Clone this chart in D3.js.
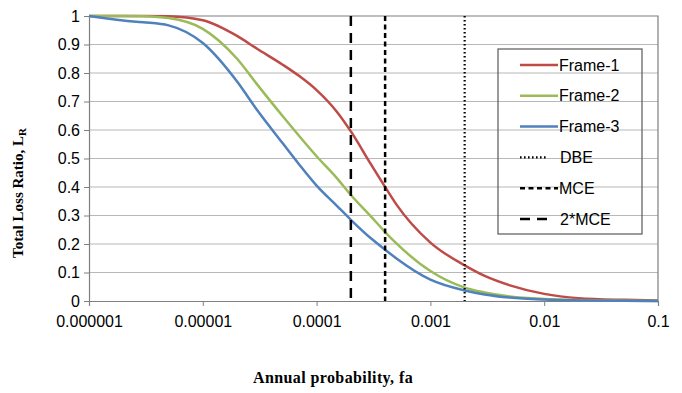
<!DOCTYPE html>
<html>
<head>
<meta charset="utf-8">
<script src="https://cdn.jsdelivr.net/npm/d3@7"></script>
<style>
  body { margin: 0; background: #fff; }
  svg { display: block; }
  .tick text { font-family: Arial, "Liberation Sans", sans-serif; font-size: 16px; fill: #000; }
</style>
</head>
<body>
<svg width="682" height="393"></svg>
<script>
// annual probability (x) and loss ratio per frame
var fa = [0.000001, 0.000002, 0.000003, 0.000005, 0.00001, 0.00002, 0.00003, 0.00005, 0.00007,
          0.0001, 0.00015, 0.0002, 0.0003, 0.0004, 0.0005, 0.001, 0.002, 0.003, 0.005, 0.01, 0.02, 0.05, 0.1];
var frame1 = [1.0, 1.0, 1.0, 0.999, 0.985, 0.93, 0.885, 0.83, 0.79,
              0.74, 0.665, 0.595, 0.48, 0.40, 0.34, 0.205, 0.125, 0.088, 0.055, 0.025, 0.01, 0.004, 0.002];
var frame2 = [1.0, 1.0, 0.999, 0.993, 0.955, 0.85, 0.76, 0.65, 0.58,
              0.508, 0.432, 0.372, 0.297, 0.242, 0.203, 0.105, 0.047, 0.03, 0.016, 0.007, 0.003, 0.001, 0.0];
var frame3 = [1.0, 0.984, 0.978, 0.967, 0.905, 0.77, 0.67, 0.555, 0.48,
              0.405, 0.335, 0.285, 0.22, 0.18, 0.15, 0.075, 0.037, 0.023, 0.012, 0.005, 0.002, 0.0005, 0.0];

var xTicks = [0.000001, 0.00001, 0.0001, 0.001, 0.01, 0.1];
var xTickLabels = ["0.000001", "0.00001", "0.0001", "0.001", "0.01", "0.1"];
var yTicks = [0, 0.1, 0.2, 0.3, 0.4, 0.5, 0.6, 0.7, 0.8, 0.9, 1];

// hazard levels drawn as vertical lines
var levels = [
  {name: "DBE", fa: 0.002, dash: "1.6,2.4", width: 2.2},
  {name: "MCE", fa: 0.0004, dash: "5,3.5", width: 2.5},
  {name: "2*MCE", fa: 0.0002, dash: "10,7", width: 2.5}
];
var series = [
  {name: "Frame-1", values: frame1, color: "#BE4B48"},
  {name: "Frame-2", values: frame2, color: "#9BBB59"},
  {name: "Frame-3", values: frame3, color: "#4F81BD"}
];

var margin = {left: 89, right: 24, top: 16, bottom: 92};
var W = 682, H = 393;
var svg = d3.select("svg");

var x = d3.scaleLog().domain([0.000001, 0.1]).range([margin.left, W - margin.right]);
var y = d3.scaleLinear().domain([0, 1]).range([H - margin.bottom, margin.top]);

// gridlines
svg.append("g").selectAll("line")
  .data(yTicks.slice(1, -1))
  .enter().append("line")
  .attr("x1", x.range()[0]).attr("x2", x.range()[1])
  .attr("y1", function(d) { return y(d); }).attr("y2", function(d) { return y(d); })
  .style("stroke", "#b8b8b8").style("stroke-width", 1.2);

// plot border (top + right)
svg.append("path")
  .attr("d", "M" + x.range()[0] + "," + y(1) + "H" + x.range()[1] + "V" + y(0))
  .style("fill", "none").style("stroke", "#7f7f7f").style("stroke-width", 1.2);

// axes
var xAxis = svg.append("g")
  .attr("transform", "translate(0," + y(0) + ")")
  .call(d3.axisBottom(x).tickValues(xTicks).tickSize(5).tickPadding(10)
    .tickFormat(function(d, i) { return xTickLabels[i]; }));
var yAxis = svg.append("g")
  .attr("transform", "translate(" + x.range()[0] + ",0)")
  .call(d3.axisLeft(y).tickValues(yTicks).tickSize(5).tickPadding(4)
    .tickFormat(function(d) { return d === 0 ? "0" : d === 1 ? "1" : d3.format(".1f")(d); }));
[xAxis, yAxis].forEach(function(a) {
  a.select(".domain").style("stroke", "#7f7f7f").style("stroke-width", 1.2);
  a.selectAll(".tick line").style("stroke", "#7f7f7f");
});

// curves
var line = d3.line()
  .x(function(d, i) { return x(fa[i]); })
  .y(function(d) { return y(d); })
  .curve(d3.curveMonotoneX);
svg.append("g").selectAll("path")
  .data(series)
  .enter().append("path")
  .attr("d", function(s) { return line(s.values); })
  .style("fill", "none")
  .style("stroke", function(s) { return s.color; })
  .style("stroke-width", 2.5);

// hazard level lines
svg.append("g").selectAll("line")
  .data(levels)
  .enter().append("line")
  .attr("x1", function(d) { return x(d.fa); }).attr("x2", function(d) { return x(d.fa); })
  .attr("y1", y(1)).attr("y2", y(0))
  .style("stroke", "#000")
  .style("stroke-width", function(d) { return d.width; })
  .style("stroke-dasharray", function(d) { return d.dash; });

// legend
var lg = svg.append("g").attr("transform", "translate(498,49)");
lg.append("rect").attr("width", 144).attr("height", 185)
  .style("fill", "none").style("stroke", "#595959").style("stroke-width", 1.2);
var items = series.map(function(s) { return {name: s.name, color: s.color, dash: null, width: 2.5}; })
  .concat(levels.map(function(l) { return {name: l.name, color: "#000", dash: l.dash, width: l.width}; }));
var it = lg.selectAll("g.item").data(items).enter().append("g")
  .attr("class", "item")
  .attr("transform", function(d, i) { return "translate(0," + (16 + i * 30.8) + ")"; });
it.append("line")
  .attr("x1", 22).attr("x2", function(d) { return d.name === "DBE" ? 49 : d.name === "2*MCE" ? 49 : 60; })
  .style("stroke", function(d) { return d.color; })
  .style("stroke-width", function(d) { return d.width; })
  .style("stroke-dasharray", function(d) { return d.dash; });
it.append("text")
  .attr("x", function(d) { return d.name === "DBE" || d.name === "2*MCE" ? 62 : 61; })
  .attr("dy", "0.35em")
  .style("font-family", "Arial, 'Liberation Sans', sans-serif")
  .style("font-size", "16px")
  .text(function(d) { return d.name; });

// axis titles
var yt = svg.append("text")
  .attr("transform", "translate(23,258) rotate(-90)")
  .attr("text-anchor", "start")
  .style("font-family", "'Liberation Serif', 'Times New Roman', serif")
  .style("font-weight", "bold").style("font-size", "15px");
yt.append("tspan").text("Total Loss Ratio, L");
yt.append("tspan").attr("dy", 3).style("font-size", "11px").text("R");

svg.append("text")
  .attr("x", 333).attr("y", 383)
  .attr("text-anchor", "middle")
  .style("font-family", "'Liberation Serif', 'Times New Roman', serif")
  .style("font-weight", "bold").style("font-size", "16px")
  .style("letter-spacing", "0.4px")
  .text("Annual probability,  fa");
</script>
</body>
</html>
